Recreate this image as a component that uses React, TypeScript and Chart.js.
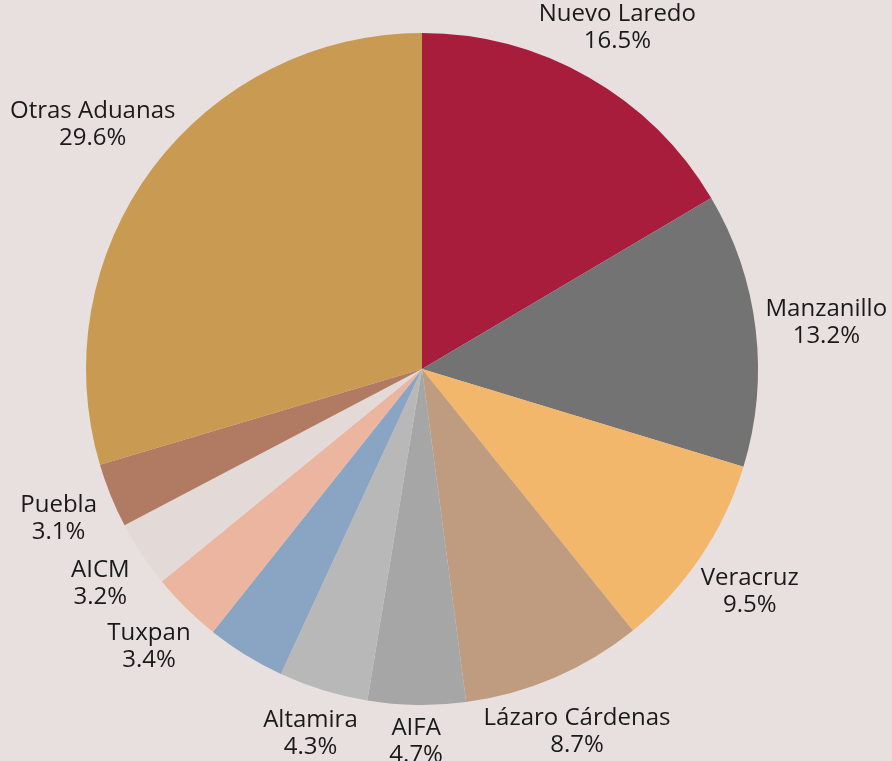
import React, { useEffect, useRef } from "react";
import { Chart, registerables } from "chart.js";

Chart.register(...registerables);

const categories = [
  "Nuevo Laredo",
  "Manzanillo",
  "Veracruz",
  "Lázaro Cárdenas",
  "AIFA",
  "Altamira",
  "",
  "Tuxpan",
  "AICM",
  "Puebla",
  "Otras Aduanas",
];
const shares = [16.5, 13.2, 9.5, 8.7, 4.7, 4.3, 3.8, 3.4, 3.2, 3.1, 29.6];
const sliceColors = [
  "#a81d3b",
  "#737373",
  "#f2b76b",
  "#bf9c80",
  "#a6a6a6",
  "#b8b8b8",
  "#8aa5c4",
  "#ebb59f",
  "#e3d9d7",
  "#b07b62",
  "#c89a52",
];

const FONT = "'Open Sans', 'Noto Sans', sans-serif";
const BG = "#e8e0de";

const outsideLabels = {
  id: "outsideLabels",
  afterDatasetsDraw(chart: any) {
    const ctx = chart.ctx;
    const meta = chart.getDatasetMeta(0);
    ctx.save();
    ctx.fillStyle = "#1a1a1a";
    ctx.font = `24px ${FONT}`;
    ctx.textAlign = "center";
    ctx.textBaseline = "alphabetic";
    meta.data.forEach((arc: any, i: number) => {
      const name = chart.data.labels[i];
      if (!name) return;
      const p = arc.getProps(["x", "y", "startAngle", "endAngle", "outerRadius"], true);
      const mid = (p.startAngle + p.endAngle) / 2;
      const dx = Math.cos(mid);
      const dy = Math.sin(mid);
      const value = chart.data.datasets[0].data[i];
      const valText = value.toFixed(1) + "%";
      const w = Math.max(ctx.measureText(name).width, ctx.measureText(valText).width);
      const r = p.outerRadius + 35 + 0.3 * w * Math.abs(dx);
      const cx = p.x + dx * r;
      const cy = p.y + dy * r;
      ctx.fillText(name, cx, cy - 5);
      ctx.fillText(valText, cx, cy + 22);
    });
    ctx.restore();
  },
};

export default function App() {
  const ref = useRef<HTMLCanvasElement>(null);
  useEffect(() => {
    if (!ref.current) return;
    const chart = new Chart(ref.current, {
      type: "pie",
      data: {
        labels: categories,
        datasets: [
          {
            data: shares,
            backgroundColor: sliceColors,
            borderWidth: 0,
          },
        ],
      },
      options: {
        responsive: false,
        animation: false,
        layout: { padding: { left: 86, right: 134, top: 33, bottom: 56 } },
        plugins: {
          legend: { display: false },
          tooltip: { enabled: false },
        },
      },
      plugins: [outsideLabels],
    });
    return () => chart.destroy();
  }, []);
  return (
    <div
      style={{
        position: "absolute",
        left: 0,
        top: 0,
        width: 892,
        height: 761,
        background: BG,
        overflow: "hidden",
      }}
    >
      <canvas ref={ref} width={892} height={761} />
    </div>
  );
}
